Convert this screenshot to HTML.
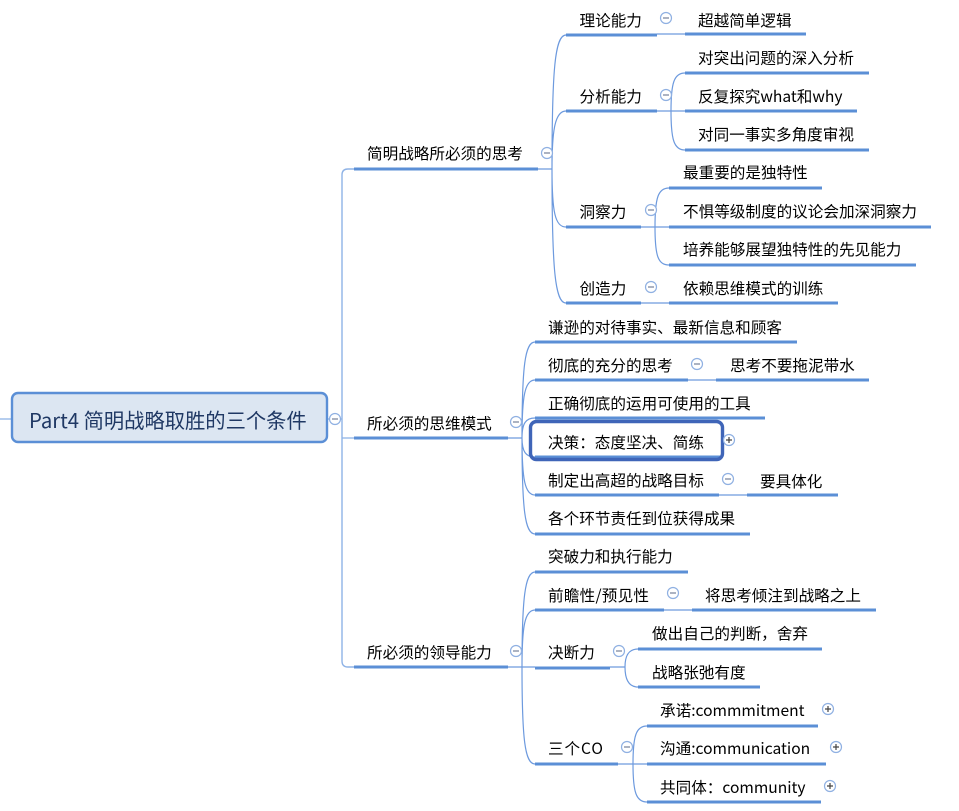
<!DOCTYPE html>
<html lang="zh-CN"><head><meta charset="utf-8"><style>
html,body{margin:0;padding:0;background:#fff;width:959px;height:811px;overflow:hidden}
svg{display:block}
text{font-family:"Noto Sans CJK SC","Liberation Sans",sans-serif;font-size:15.6px;fill:#000;dominant-baseline:central}
.u{stroke:#5b8fd6;stroke-width:3;fill:none}
.c{stroke:#6d9ade;stroke-width:1.2;fill:none}
.o{fill:#fff;stroke:#8fb0e2;stroke-width:1.2}
.m{stroke:#7f8aa0;stroke-width:1.3}
.p{stroke:#444;stroke-width:1.2}
</style></head><body>
<svg width="959" height="811" viewBox="0 0 959 811" xmlns="http://www.w3.org/2000/svg">
<path class="c" style="stroke:#9dbdea;stroke-width:1.5" d="M0 419H12M327 419H342M342 438H354"/>
<path class="c" style="stroke:#8fb3e6;stroke-width:1.4" d="M354 169H348Q342 169 342 175V661Q342 667 348 667H354"/>
<path class="c" d="M538 169H552M552 169C552 69 555 35 566 35M552 169C552 130 555 111 566 111M552 169C552 212 555 227 566 227M552 169C552 269 555 303 566 303"/>
<path class="c" d="M657 34H685M657 111H685M671 111C671 83 674 73 685 73M671 111C671 140 674 150 685 150M641 227H669M655 227C655 198 658 188 669 188M655 227C655 256 658 265 669 265M641 303H669"/>
<path class="c" d="M508 438H522M522 438C522 366 525 342 535 342M522 438C522 395 525 380 535 380M522 438C522 423 526 418 535 418M522 438C522 452 526 457 535 457M522 438C522 480 525 495 535 495M522 438C522 510 525 534 535 534"/>
<path class="c" d="M688 380H716M719 495H747"/>
<path class="c" d="M508 667H535M522 667C522 598 525 572 535 572M522 667C522 625 525 610 535 610M522 667C522 740 525 764 535 764"/>
<path class="c" d="M664 610H692M610 667H625M625 667C625 655 629 649 638 649M625 667C625 680 629 687 638 687M618 764H647M633 764C633 736 636 726 647 726M633 764C633 792 636 802 647 802"/>

<path class="u" d="M354 169H538M354 438H508M354 667H508"/>
<path class="u" d="M566 35H657M685 34H806M566 111H657M685 73H869M685 111H857M685 150H869M566 227H641M669 188H822M669 227H931M669 265H916M566 303H641M669 303H838"/>
<path class="u" d="M535 342H797M535 380H688M716 380H869M535 418H765M535 457H720M535 495H719M747 495H838M535 534H750"/>
<path class="u" d="M535 572H688M535 610H664M692 610H876M535 668H610M638 649H822M638 687H760M535 764H618M647 726H818M647 764H826M647 802H821"/>

<rect x="12" y="393" width="315" height="49" rx="6" fill="#dce6f2" stroke="#5b8fd6" stroke-width="2.4"/>
<text x="29" y="419" style="font-size:20.3px;fill:#1f3864">Part4 简明战略取胜的三个条件</text>

<text x="367" y="153">简明战略所必须的思考</text>
<text x="367" y="423">所必须的思维模式</text>
<text x="367" y="652">所必须的领导能力</text>

<text x="579.5" y="20">理论能力</text>
<text x="698" y="20">超越简单逻辑</text>
<text x="579.5" y="96">分析能力</text>
<text x="698" y="57.5">对突出问题的深入分析</text>
<text x="698" y="96">反复探究what和why</text>
<text x="698" y="134">对同一事实多角度审视</text>
<text x="579.5" y="211.5">洞察力</text>
<text x="683" y="172">最重要的是独特性</text>
<text x="683" y="211">不惧等级制度的议论会加深洞察力</text>
<text x="683" y="249">培养能够展望独特性的先见能力</text>
<text x="579.5" y="288">创造力</text>
<text x="683" y="288">依赖思维模式的训练</text>

<text x="548" y="327">谦逊的对待事实、最新信息和顾客</text>
<text x="548" y="365">彻底的充分的思考</text>
<text x="730" y="365">思考不要拖泥带水</text>
<text x="548" y="403">正确彻底的运用可使用的工具</text>
<text x="548" y="442">决策&#xFF1A;态度坚决、简练</text>
<text x="548" y="480">制定出高超的战略目标</text>
<text x="760" y="481">要具体化</text>
<text x="548" y="518">各个环节责任到位获得成果</text>

<text x="548" y="556">突破力和执行能力</text>
<text x="548" y="595" textLength="101" lengthAdjust="spacing">前瞻性/预见性</text>
<text x="705" y="595">将思考倾注到战略之上</text>
<text x="548" y="652">决断力</text>
<text x="652" y="633">做出自己的判断&#xFF0C;舍弃</text>
<text x="652" y="672">战略张弛有度</text>
<text x="548" y="748" textLength="55" lengthAdjust="spacing">三个CO</text>
<text x="660" y="710">承诺:commmitment</text>
<text x="660" y="748">沟通:communication</text>
<text x="660" y="787">共同体&#xFF1A;community</text>

<rect x="530.5" y="421.5" width="192" height="38" rx="6" fill="none" stroke="#3f65b8" stroke-width="3.4"/>

<g>
<circle class="o" cx="335" cy="419" r="5.5"/><path class="m" d="M332 419H338"/>
<circle class="o" cx="547" cy="153" r="5.5"/><path class="m" d="M544 153H550"/>
<circle class="o" cx="516" cy="422" r="5.5"/><path class="m" d="M513 422H519"/>
<circle class="o" cx="516" cy="651" r="5.5"/><path class="m" d="M513 651H519"/>
<circle class="o" cx="666" cy="18" r="5.5"/><path class="m" d="M663 18H669"/>
<circle class="o" cx="666" cy="95" r="5.5"/><path class="m" d="M663 95H669"/>
<circle class="o" cx="651" cy="210" r="5.5"/><path class="m" d="M648 210H654"/>
<circle class="o" cx="651" cy="287" r="5.5"/><path class="m" d="M648 287H654"/>
<circle class="o" cx="697" cy="364" r="5.5"/><path class="m" d="M694 364H700"/>
<circle class="o" cx="728" cy="479" r="5.5"/><path class="m" d="M725 479H731"/>
<circle class="o" cx="673" cy="593" r="5.5"/><path class="m" d="M670 593H676"/>
<circle class="o" cx="619" cy="651" r="5.5"/><path class="m" d="M616 651H622"/>
<circle class="o" cx="627" cy="747" r="5.5"/><path class="m" d="M624 747H630"/>
<circle class="o" cx="729" cy="440" r="5.5"/><path class="p" d="M726 440H732M729 437V443"/>
<circle class="o" cx="828" cy="709" r="5.5"/><path class="p" d="M825 709H831M828 706V712"/>
<circle class="o" cx="836" cy="747" r="5.5"/><path class="p" d="M833 747H839M836 744V750"/>
<circle class="o" cx="830" cy="786" r="5.5"/><path class="p" d="M827 786H833M830 783V789"/>
</g>
</svg>
</body></html>
